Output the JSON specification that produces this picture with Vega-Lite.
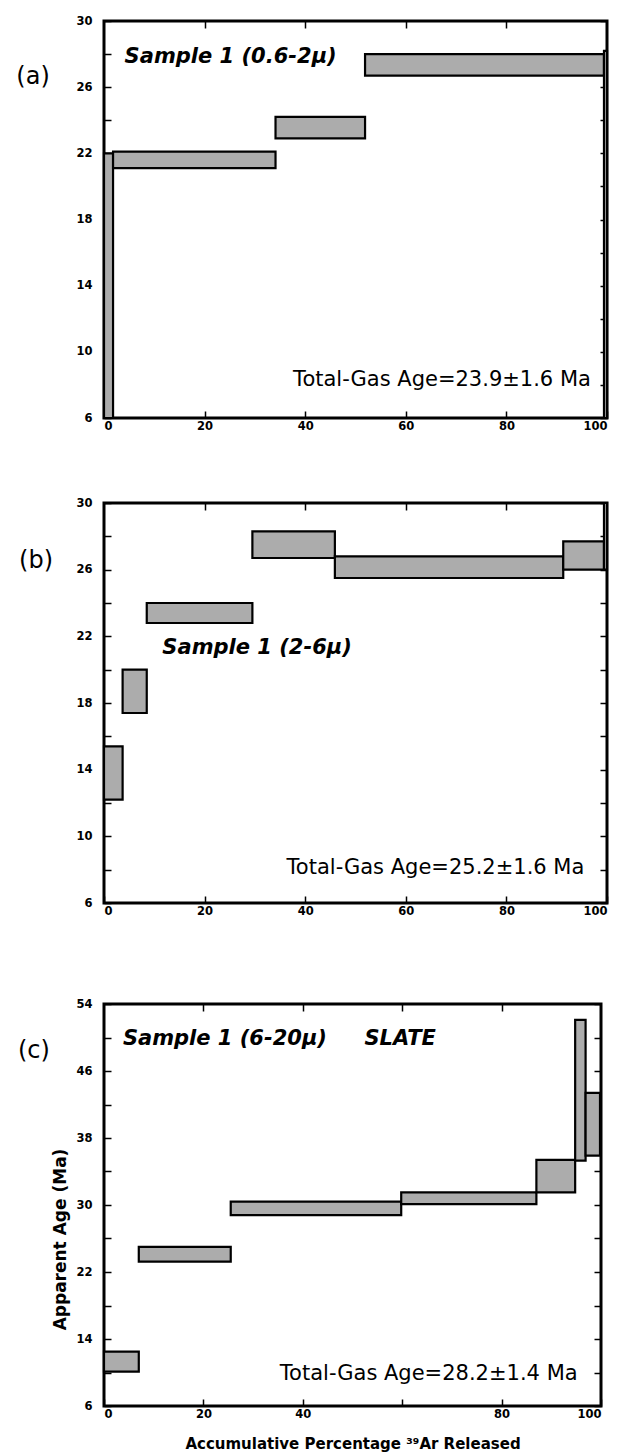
{
  "$schema": "https://vega.github.io/schema/vega-lite/v6.json",
  "background": "white",
  "padding": {"left": 14, "top": 13, "right": 5, "bottom": 0},
  "config": {
    "view": {"stroke": "black", "strokeWidth": 3},
    "font": "DejaVu Sans",
    "axis": {"grid": false, "domain": false, "tickColor": "black", "tickWidth": 1.5, "labelColor": "black", "labelFont": "DejaVu Sans", "labelFontWeight": "bold", "labelFontSize": 11.5, "titleColor": "black", "titleFont": "DejaVu Sans", "titleFontWeight": "bold", "titleFontSize": 15}
  },
  "datasets": {
    "steps": [
      {"panel": "a", "x1": 0, "x2": 1.8, "y1": 6, "y2": 22},
      {"panel": "a", "x1": 1.8, "x2": 34.1, "y1": 21.1, "y2": 22.1},
      {"panel": "a", "x1": 34.1, "x2": 51.9, "y1": 22.9, "y2": 24.2},
      {"panel": "a", "x1": 51.9, "x2": 99.4, "y1": 26.7, "y2": 28.0},
      {"panel": "a", "x1": 99.4, "x2": 100, "y1": 6, "y2": 28.2},
      {"panel": "b", "x1": 0, "x2": 3.7, "y1": 12.2, "y2": 15.4},
      {"panel": "b", "x1": 3.7, "x2": 8.5, "y1": 17.4, "y2": 20.0},
      {"panel": "b", "x1": 8.5, "x2": 29.5, "y1": 22.8, "y2": 24.0},
      {"panel": "b", "x1": 29.5, "x2": 45.9, "y1": 26.7, "y2": 28.3},
      {"panel": "b", "x1": 45.9, "x2": 91.3, "y1": 25.5, "y2": 26.8},
      {"panel": "b", "x1": 91.3, "x2": 99.4, "y1": 26.0, "y2": 27.7},
      {"panel": "b", "x1": 99.4, "x2": 100, "y1": 26.0, "y2": 30},
      {"panel": "c", "x1": 0, "x2": 7.0, "y1": 10.1, "y2": 12.5},
      {"panel": "c", "x1": 7.0, "x2": 25.5, "y1": 23.25, "y2": 25.0},
      {"panel": "c", "x1": 25.5, "x2": 59.8, "y1": 28.8, "y2": 30.4},
      {"panel": "c", "x1": 59.8, "x2": 87.0, "y1": 30.1, "y2": 31.5},
      {"panel": "c", "x1": 87.0, "x2": 94.8, "y1": 31.5, "y2": 35.4},
      {"panel": "c", "x1": 94.8, "x2": 96.9, "y1": 35.3, "y2": 52.1},
      {"panel": "c", "x1": 96.9, "x2": 99.8, "y1": 35.9, "y2": 43.4}
    ],
    "notes": [
      {"panel": "a", "kind": "tag", "x": -14.1, "y": 26.6, "label": "(a)"},
      {"panel": "a", "kind": "sample", "x": 4.1, "y": 27.8, "label": "Sample 1 (0.6-2μ)"},
      {"panel": "a", "kind": "gas", "x": 96.8, "y": 8.3, "label": "Total-Gas Age=23.9±1.6 Ma"},
      {"panel": "b", "kind": "tag", "x": -13.5, "y": 26.5, "label": "(b)"},
      {"panel": "b", "kind": "sample", "x": 11.6, "y": 21.3, "label": "Sample 1 (2-6μ)"},
      {"panel": "b", "kind": "gas", "x": 95.5, "y": 8.1, "label": "Total-Gas Age=25.2±1.6 Ma"},
      {"panel": "c", "kind": "tag", "x": -14.1, "y": 48.4, "label": "(c)"},
      {"panel": "c", "kind": "sample", "x": 3.8, "y": 49.8, "label": "Sample 1 (6-20μ)"},
      {"panel": "c", "kind": "sample", "x": 52.4, "y": 49.8, "label": "SLATE"},
      {"panel": "c", "kind": "gas", "x": 95.3, "y": 9.8, "label": "Total-Gas Age=28.2±1.4 Ma"}
    ]
  },
  "vconcat": [
    {
      "width": 503, "height": 397,
      "layer": [
        {"data": {"name": "steps"}, "transform": [{"filter": "datum.panel === 'a'"}],
         "mark": {"type": "rect", "fill": "#acacac", "stroke": "black", "strokeWidth": 2.2},
         "encoding": {
           "x": {"field": "x1", "type": "quantitative", "scale": {"domain": [0, 100], "nice": false, "zero": false}, "axis": {"orient": "bottom", "values": [0, 20, 40, 60, 80, 100], "tickSize": -7, "labelPadding": 9, "title": null}},
           "x2": {"field": "x2"},
           "y": {"field": "y1", "type": "quantitative", "scale": {"domain": [6, 30], "nice": false, "zero": false}, "axis": {"orient": "left", "values": [6, 8, 10, 12, 14, 16, 18, 20, 22, 24, 26, 28, 30], "labelExpr": "(datum.value - 6) % 4 === 0 ? datum.label : ''", "tickSize": -7, "labelPadding": 19, "title": null}},
           "y2": {"field": "y2"}
         }},
        {"data": {"name": "notes"}, "transform": [{"filter": "datum.panel === 'a' && datum.kind === 'sample'"}],
         "mark": {"type": "text", "align": "left", "baseline": "middle", "fontSize": 21, "fontWeight": "bold", "fontStyle": "italic", "color": "black"},
         "encoding": {
           "x": {"field": "x", "type": "quantitative", "axis": {"orient": "top", "values": [20, 40, 60, 80], "labels": false, "tickSize": -7, "title": null}},
           "y": {"field": "y", "type": "quantitative", "axis": {"orient": "right", "values": [6, 8, 10, 12, 14, 16, 18, 20, 22, 24, 26, 28, 30], "labels": false, "tickSize": -7, "title": null}},
           "text": {"field": "label"}
         }},
        {"data": {"name": "notes"}, "transform": [{"filter": "datum.panel === 'a' && datum.kind === 'gas'"}],
         "mark": {"type": "text", "align": "right", "baseline": "middle", "fontSize": 21, "color": "black"},
         "encoding": {"x": {"field": "x", "type": "quantitative", "axis": null}, "y": {"field": "y", "type": "quantitative", "axis": null}, "text": {"field": "label"}}},
        {"data": {"name": "notes"}, "transform": [{"filter": "datum.panel === 'a' && datum.kind === 'tag'"}],
         "mark": {"type": "text", "align": "center", "baseline": "middle", "fontSize": 24, "color": "black"},
         "encoding": {"x": {"field": "x", "type": "quantitative", "axis": null}, "y": {"field": "y", "type": "quantitative", "axis": null}, "text": {"field": "label"}}}
      ],
      "resolve": {"axis": {"x": "independent", "y": "independent"}}
    },
    {
      "width": 503, "height": 400,
      "layer": [
        {"data": {"name": "steps"}, "transform": [{"filter": "datum.panel === 'b'"}],
         "mark": {"type": "rect", "fill": "#acacac", "stroke": "black", "strokeWidth": 2.2},
         "encoding": {
           "x": {"field": "x1", "type": "quantitative", "scale": {"domain": [0, 100], "nice": false, "zero": false}, "axis": {"orient": "bottom", "values": [0, 20, 40, 60, 80, 100], "tickSize": -7, "labelPadding": 9, "title": " ", "titleFontSize": 14, "titlePadding": 2}},
           "x2": {"field": "x2"},
           "y": {"field": "y1", "type": "quantitative", "scale": {"domain": [6, 30], "nice": false, "zero": false}, "axis": {"orient": "left", "values": [6, 8, 10, 12, 14, 16, 18, 20, 22, 24, 26, 28, 30], "labelExpr": "(datum.value - 6) % 4 === 0 ? datum.label : ''", "tickSize": -7, "labelPadding": 19, "title": null}},
           "y2": {"field": "y2"}
         }},
        {"data": {"name": "notes"}, "transform": [{"filter": "datum.panel === 'b' && datum.kind === 'sample'"}],
         "mark": {"type": "text", "align": "left", "baseline": "middle", "fontSize": 21, "fontWeight": "bold", "fontStyle": "italic", "color": "black"},
         "encoding": {
           "x": {"field": "x", "type": "quantitative", "axis": {"orient": "top", "values": [20, 40, 60, 80], "labels": false, "tickSize": -7, "title": null}},
           "y": {"field": "y", "type": "quantitative", "axis": {"orient": "right", "values": [6, 8, 10, 12, 14, 16, 18, 20, 22, 24, 26, 28, 30], "labels": false, "tickSize": -7, "title": null}},
           "text": {"field": "label"}
         }},
        {"data": {"name": "notes"}, "transform": [{"filter": "datum.panel === 'b' && datum.kind === 'gas'"}],
         "mark": {"type": "text", "align": "right", "baseline": "middle", "fontSize": 21, "color": "black"},
         "encoding": {"x": {"field": "x", "type": "quantitative", "axis": null}, "y": {"field": "y", "type": "quantitative", "axis": null}, "text": {"field": "label"}}},
        {"data": {"name": "notes"}, "transform": [{"filter": "datum.panel === 'b' && datum.kind === 'tag'"}],
         "mark": {"type": "text", "align": "center", "baseline": "middle", "fontSize": 24, "color": "black"},
         "encoding": {"x": {"field": "x", "type": "quantitative", "axis": null}, "y": {"field": "y", "type": "quantitative", "axis": null}, "text": {"field": "label"}}}
      ],
      "resolve": {"axis": {"x": "independent", "y": "independent"}}
    },
    {
      "width": 497, "height": 402,
      "layer": [
        {"data": {"name": "steps"}, "transform": [{"filter": "datum.panel === 'c'"}],
         "mark": {"type": "rect", "fill": "#acacac", "stroke": "black", "strokeWidth": 2.2},
         "encoding": {
           "x": {"field": "x1", "type": "quantitative", "scale": {"domain": [0, 100], "nice": false, "zero": false}, "axis": {"orient": "bottom", "values": [0, 20, 40, 60, 80, 100], "labelExpr": "datum.value === 60 ? '' : datum.label", "tickSize": -7, "labelPadding": 9, "title": "Accumulative Percentage ³⁹Ar Released", "titleFontSize": 15, "titlePadding": 17}},
           "x2": {"field": "x2"},
           "y": {"field": "y1", "type": "quantitative", "scale": {"domain": [6, 54], "nice": false, "zero": false}, "axis": {"orient": "left", "values": [6, 10, 14, 18, 22, 26, 30, 34, 38, 42, 46, 50, 54], "labelExpr": "(datum.value - 6) % 8 === 0 ? datum.label : ''", "tickSize": -7, "labelPadding": 19, "title": "Apparent Age (Ma)", "titleFontSize": 17, "titlePadding": 6, "titleY": 235}},
           "y2": {"field": "y2"}
         }},
        {"data": {"name": "notes"}, "transform": [{"filter": "datum.panel === 'c' && datum.kind === 'sample'"}],
         "mark": {"type": "text", "align": "left", "baseline": "middle", "fontSize": 21, "fontWeight": "bold", "fontStyle": "italic", "color": "black"},
         "encoding": {
           "x": {"field": "x", "type": "quantitative", "axis": {"orient": "top", "values": [20, 40, 60, 80], "labels": false, "tickSize": -7, "title": null}},
           "y": {"field": "y", "type": "quantitative", "axis": {"orient": "right", "values": [6, 10, 14, 18, 22, 26, 30, 34, 38, 42, 46, 50, 54], "labels": false, "tickSize": -7, "title": null}},
           "text": {"field": "label"}
         }},
        {"data": {"name": "notes"}, "transform": [{"filter": "datum.panel === 'c' && datum.kind === 'gas'"}],
         "mark": {"type": "text", "align": "right", "baseline": "middle", "fontSize": 21, "color": "black"},
         "encoding": {"x": {"field": "x", "type": "quantitative", "axis": null}, "y": {"field": "y", "type": "quantitative", "axis": null}, "text": {"field": "label"}}},
        {"data": {"name": "notes"}, "transform": [{"filter": "datum.panel === 'c' && datum.kind === 'tag'"}],
         "mark": {"type": "text", "align": "center", "baseline": "middle", "fontSize": 24, "color": "black"},
         "encoding": {"x": {"field": "x", "type": "quantitative", "axis": null}, "y": {"field": "y", "type": "quantitative", "axis": null}, "text": {"field": "label"}}}
      ],
      "resolve": {"axis": {"x": "independent", "y": "independent"}}
    }
  ],
  "spacing": 62
}
